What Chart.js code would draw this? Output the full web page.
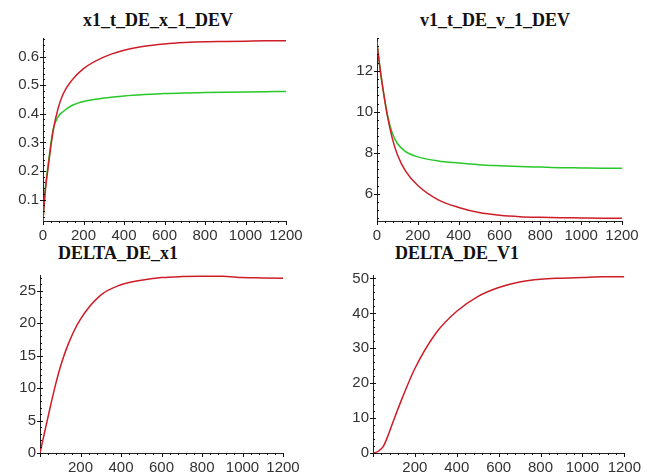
<!DOCTYPE html>
<html>
<head>
<meta charset="utf-8">
<script src="https://cdn.jsdelivr.net/npm/chart.js@4.4.0/dist/chart.umd.min.js"></script>
<style>
  body { margin: 0; background: #fff; width: 647px; height: 473px; position: relative; overflow: hidden; }
  canvas { position: absolute; }
  .ttl { position: absolute; font: bold 18px "Liberation Serif", serif; color: #111; transform: translate(-50%, -50%); white-space: nowrap; }
</style>
</head>
<body>
<div class="ttl" style="left:158px;top:20px">x1_t_DE_x_1_DEV</div>
<div class="ttl" style="left:495px;top:20px">v1_t_DE_v_1_DEV</div>
<div class="ttl" style="left:118px;top:253px">DELTA_DE_x1</div>
<div class="ttl" style="left:457px;top:253px">DELTA_DE_V1</div>
<canvas id="c1" width="310" height="225" style="left:0px;top:25px"></canvas>
<canvas id="c2" width="317" height="225" style="left:330px;top:25px"></canvas>
<canvas id="c3" width="310" height="211" style="left:0px;top:262px"></canvas>
<canvas id="c4" width="317" height="211" style="left:330px;top:262px"></canvas>
<script>
// time points (x) shared by every curve
const tPts = [0, 10, 25, 50, 75, 100, 140, 200, 300, 400, 500, 600, 700, 800, 900, 1000, 1100, 1200];

// x1_t_DE_x_1_DEV
const x1Red   = [0.027, 0.12, 0.21, 0.34, 0.42, 0.47, 0.515, 0.558, 0.598, 0.622, 0.636, 0.644, 0.649, 0.652, 0.653, 0.654, 0.655, 0.655];
const x1Green = [0.027, 0.13, 0.22, 0.345, 0.39, 0.408, 0.428, 0.443, 0.455, 0.462, 0.467, 0.471, 0.473, 0.474, 0.475, 0.476, 0.477, 0.478];

// v1_t_DE_v_1_DEV
const v1Red   = [13.4, 12.5, 11.4, 9.85, 8.7, 7.9, 7.1, 6.4, 5.7, 5.33, 5.08, 4.95, 4.88, 4.85, 4.83, 4.82, 4.81, 4.8];
const v1Green = [13.4, 12.5, 11.4, 9.9, 8.95, 8.45, 8.05, 7.8, 7.6, 7.5, 7.42, 7.37, 7.33, 7.3, 7.27, 7.26, 7.25, 7.25];

// DELTA_DE_x1 and DELTA_DE_V1
const deltaX1 = [0, 1.4, 3.5, 7.0, 10.3, 13.2, 16.8, 20.6, 24.3, 25.9, 26.6, 27.0, 27.15, 27.2, 27.2, 27.0, 26.95, 26.9];
const deltaV1 = [0, 0.1, 0.5, 2.0, 5.5, 9.6, 15.8, 24.2, 34.3, 40.6, 44.8, 47.4, 49.0, 49.8, 50.1, 50.3, 50.5, 50.5];

// tick labels
const xTicksTop    = [0, 200, 400, 600, 800, 1000, 1200];
const xTicksBottom = [200, 400, 600, 800, 1000, 1200];
const x1Ticks = [0.1, 0.2, 0.3, 0.4, 0.5, 0.6];
const v1Ticks = [6, 8, 10, 12];
const dx1Ticks = [0, 5, 10, 15, 20, 25];
const dv1Ticks = [0, 10, 20, 30, 40, 50];

const RED = 'rgb(205,30,40)';
const GREEN = 'rgb(40,200,40)';

function pts(ys) {
  return tPts.map((t, i) => ({ x: t, y: ys[i] }));
}

// Maple style minor / major tick marks on both axes
const axisTicks = {
  id: 'axisTicks',
  afterDraw(chart, args, opts) {
    const { ctx } = chart;
    const xs = chart.scales.x, ys = chart.scales.y;
    ctx.save();
    ctx.strokeStyle = '#111';
    ctx.lineWidth = 1;
    ctx.beginPath();
    for (let v = xs.min; v <= xs.max + 1e-9; v += opts.xMinor) {
      const px = Math.round(xs.getPixelForValue(v)) + 0.5;
      const major = Math.abs(v / opts.xMajor - Math.round(v / opts.xMajor)) < 1e-6;
      ctx.moveTo(px, ys.bottom);
      ctx.lineTo(px, ys.bottom + (major ? 4 : 2));
    }
    const start = Math.ceil(ys.min / opts.yMinor - 1e-6) * opts.yMinor;
    for (let v = start; v <= ys.max + 1e-9; v += opts.yMinor) {
      const py = Math.round(ys.getPixelForValue(v)) + 0.5;
      const major = Math.abs(v / opts.yMajor - Math.round(v / opts.yMajor)) < 1e-6;
      ctx.moveTo(xs.left - (major ? 3 : 0), py);
      ctx.lineTo(xs.left + (major ? 3 : 2), py);
    }
    ctx.stroke();
    ctx.restore();
  }
};

function makePanel(id, box, area, datasets, yMin, yMax, yTicks, xTicks, tickOpts) {
  new Chart(document.getElementById(id), {
    type: 'line',
    data: { datasets: datasets },
    options: {
      responsive: false,
      animation: false,
      devicePixelRatio: 1,
      layout: { padding: { top: area.t - box.y, right: box.x + box.w - area.r, left: 0, bottom: 0 } },
      elements: { point: { radius: 0 }, line: { borderWidth: 1.5, cubicInterpolationMode: 'monotone' } },
      plugins: { legend: { display: false }, tooltip: { enabled: false }, axisTicks: tickOpts },
      scales: {
        x: {
          type: 'linear', min: 0, max: 1200,
          grid: { display: false, drawTicks: false },
          border: { display: true, color: '#222', width: 1 },
          afterBuildTicks: s => { s.ticks = xTicks.map(v => ({ value: v })); },
          afterFit: s => { s.height = box.y + box.h - area.b; },
          ticks: { color: '#333', padding: 6, maxRotation: 0, autoSkip: false, font: { family: 'Liberation Sans', size: 15 }, callback: v => String(v) }
        },
        y: {
          type: 'linear', min: yMin, max: yMax,
          grid: { display: false, drawTicks: false },
          border: { display: true, color: '#222', width: 1 },
          afterBuildTicks: s => { s.ticks = yTicks.map(v => ({ value: v })); },
          afterFit: s => { s.width = area.l - box.x; },
          ticks: { color: '#333', padding: 4, autoSkip: false, font: { family: 'Liberation Sans', size: 15 }, callback: v => String(v) }
        }
      }
    },
    plugins: [axisTicks]
  });
}

makePanel('c1', { x: 0, y: 25, w: 310, h: 225 }, { l: 43, t: 35, r: 286, b: 221 },
  [{ data: pts(x1Red), borderColor: RED }, { data: pts(x1Green), borderColor: GREEN }],
  0.025, 0.665, x1Ticks, xTicksTop, { xMinor: 40, xMajor: 200, yMinor: 0.02, yMajor: 0.1 });

makePanel('c2', { x: 330, y: 25, w: 317, h: 225 }, { l: 377, t: 35, r: 622, b: 221 },
  [{ data: pts(v1Red), borderColor: RED }, { data: pts(v1Green), borderColor: GREEN }],
  4.67, 13.6, v1Ticks, xTicksTop, { xMinor: 40, xMajor: 200, yMinor: 0.4, yMajor: 2 });

makePanel('c3', { x: 0, y: 262, w: 310, h: 211 }, { l: 40, t: 269, r: 283, b: 453 },
  [{ data: pts(deltaX1), borderColor: RED }],
  0, 27.4, dx1Ticks, xTicksBottom, { xMinor: 40, xMajor: 200, yMinor: 1, yMajor: 5 });

makePanel('c4', { x: 330, y: 262, w: 317, h: 211 }, { l: 373, t: 269, r: 625, b: 453 },
  [{ data: pts(deltaV1), borderColor: RED }],
  0, 51, dv1Ticks, xTicksBottom, { xMinor: 40, xMajor: 200, yMinor: 2, yMajor: 10 });
</script>
</body>
</html>
